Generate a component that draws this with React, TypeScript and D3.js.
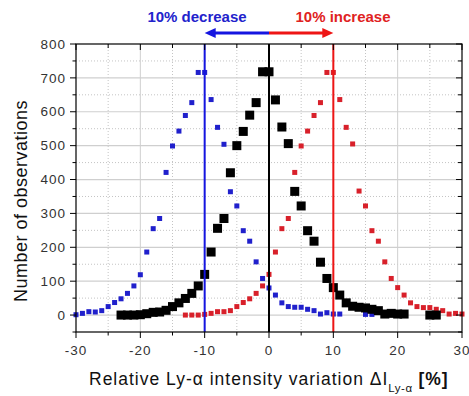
import React from "react";
import * as d3 from "d3";

// ---- data ----
const blackX = [-23, -22, -21, -20, -19, -18, -17, -16, -15, -14, -13, -12, -11, -10, -9, -8, -7, -6, -5, -4, -3, -2, -1, 0, 1, 2, 3, 4, 5, 6, 7, 8, 9, 10, 11, 12, 13, 14, 15, 16, 17, 18, 19, 20, 21, 25, 26];
const blackY = [0, 0, 0, 1, 4, 8, 9, 14, 25, 36, 49, 64, 86, 120, 186, 256, 285, 420, 500, 542, 590, 627, 718, 718, 635, 555, 506, 365, 322, 249, 218, 156, 108, 81, 59, 36, 26, 23, 21, 17, 13, 3, 5, 3, 3, 0, 0];

const blueX = [-30, -29, -28, -27, -26, -25, -24, -23, -22, -21, -20, -19, -18, -17, -16, -15, -14, -13, -12, -11, -10, -9, -8, -7, -6, -5, -4, -3, -2, -1, 0, 1, 2, 3, 4, 5, 6, 7, 8, 9, 10, 11, 15, 16];
const blueY = [1, 5, 10, 9, 13, 25, 37, 48, 64, 86, 119, 186, 255, 285, 421, 499, 543, 589, 627, 716, 716, 636, 554, 504, 364, 322, 249, 218, 157, 108, 80, 59, 36, 25, 23, 23, 17, 13, 3, 7, 3, 3, 2, 2];

const redX = [-13, -12, -11, -10, -9, -8, -7, -6, -5, -4, -3, -2, -1, 0, 1, 2, 3, 4, 5, 6, 7, 8, 9, 10, 11, 12, 13, 14, 15, 16, 17, 18, 19, 20, 21, 22, 23, 24, 25, 26, 27, 28, 29, 30];
const redY = [0, 0, 0, 2, 5, 10, 10, 13, 25, 37, 48, 64, 86, 120, 186, 255, 285, 421, 499, 543, 589, 627, 716, 716, 636, 554, 505, 366, 322, 249, 218, 157, 108, 81, 59, 36, 25, 22, 22, 17, 13, 3, 5, 3];

const xTicks = [-30, -20, -10, 0, 10, 20, 30];
const xMinor = [-25, -15, -5, 5, 15, 25];
const yTicks = [0, 100, 200, 300, 400, 500, 600, 700, 800];
const yMinor = [-50, 50, 150, 250, 350, 450, 550, 650, 750];
const refLines = [
  { v: -10, color: "#1515e0" },
  { v: 0, color: "#000000" },
  { v: 10, color: "#ee1515" },
];

const W = 469;
const H = 396;
const L = 76, R = 462, T = 44, B = 332;
const FONT = "Arial, 'Liberation Sans', Helvetica, sans-serif";

export default function App() {
  const x = d3.scaleLinear().domain([-30, 30]).range([L, R]);
  const y = d3.scaleLinear().domain([-50, 800]).range([B, T]);

  const blue = blueX.map((v, i) => [v, blueY[i]]);
  const red = redX.map((v, i) => [v, redY[i]]);
  const black = blackX.map((v, i) => [v, blackY[i]]);

  const sB = 9;
  const sC = 5;
  const arrowY = 33;

  return (
    <svg
      width={W}
      height={H}
      style={{ position: "absolute", left: 0, top: 0, background: "#fff" }}
      fontFamily={FONT}
    >
      <rect x={0} y={0} width={W} height={H} fill="#fff" />
      {/* grid */}
      {xMinor.map((t) => (
        <line key={"xm" + t} x1={x(t)} x2={x(t)} y1={T} y2={B} stroke="#c4c4c4" strokeWidth={1} strokeDasharray="1,2" />
      ))}
      {yMinor.filter((t) => t > -50).map((t) => (
        <line key={"ym" + t} x1={L} x2={R} y1={y(t)} y2={y(t)} stroke="#c4c4c4" strokeWidth={1} strokeDasharray="1,2" />
      ))}
      {xTicks.filter((t) => t > -30 && t < 30).map((t) => (
        <line key={"xg" + t} x1={x(t)} x2={x(t)} y1={T} y2={B} stroke="#cfcfcf" strokeWidth={1} />
      ))}
      {yTicks.filter((t) => t < 800).map((t) => (
        <line key={"yg" + t} x1={L} x2={R} y1={y(t)} y2={y(t)} stroke="#cfcfcf" strokeWidth={1.2} />
      ))}

      {/* series */}
      {blue.map(([a, b], i) => (
        <rect key={"b" + i} x={x(a) - sC / 2} y={y(b) - sC / 2} width={sC} height={sC} fill="#2020cc" />
      ))}
      {red.map(([a, b], i) => (
        <rect key={"r" + i} x={x(a) - sC / 2} y={y(b) - sC / 2} width={sC} height={sC} fill="#d8202a" />
      ))}
      {black.map(([a, b], i) => (
        <rect key={"k" + i} x={x(a) - sB / 2} y={y(b) - sB / 2} width={sB} height={sB} fill="#000" />
      ))}

      {/* reference lines */}
      {refLines.map((r) => (
        <line key={"rl" + r.v} x1={x(r.v)} x2={x(r.v)} y1={T} y2={B} stroke={r.color} strokeWidth={2} />
      ))}

      {/* frame */}
      <rect x={L} y={T} width={R - L} height={B - T} fill="none" stroke="#000" strokeWidth={1.2} />

      {/* ticks */}
      {xTicks.map((t) => (
        <g key={"xt" + t}>
          <line x1={x(t)} x2={x(t)} y1={B} y2={B + 6} stroke="#000" strokeWidth={1} />
          <line x1={x(t)} x2={x(t)} y1={T} y2={T + 6} stroke="#000" strokeWidth={1} />
          <text x={x(t)} y={355} textAnchor="middle" fontSize={13.5} letterSpacing={1} fill="#333">
            {t}
          </text>
        </g>
      ))}
      {xMinor.map((t) => (
        <g key={"xmt" + t}>
          <line x1={x(t)} x2={x(t)} y1={B} y2={B + 3.5} stroke="#000" strokeWidth={1} />
          <line x1={x(t)} x2={x(t)} y1={T} y2={T + 4} stroke="#000" strokeWidth={1} />
        </g>
      ))}
      {yTicks.map((t) => (
        <g key={"yt" + t}>
          <line x1={L - 6} x2={L} y1={y(t)} y2={y(t)} stroke="#000" strokeWidth={1} />
          <line x1={R - 6} x2={R} y1={y(t)} y2={y(t)} stroke="#000" strokeWidth={1} />
          <text x={66} y={y(t) + 4.7} textAnchor="end" fontSize={13.5} letterSpacing={1} fill="#333">
            {t}
          </text>
        </g>
      ))}
      {yMinor.map((t) => (
        <g key={"ymt" + t}>
          <line x1={L - 3.5} x2={L} y1={y(t)} y2={y(t)} stroke="#000" strokeWidth={1} />
          <line x1={R - 4} x2={R} y1={y(t)} y2={y(t)} stroke="#000" strokeWidth={1} />
        </g>
      ))}

      {/* axis titles */}
      <text x={89} y={385} fontSize={17.5} letterSpacing={1} fill="#111">
        Relative Ly-α intensity variation ΔI
        <tspan fontSize={11.5} dy={7} letterSpacing={0.5}>Ly-α</tspan>
        <tspan dy={-7} fontWeight="bold"> [%]</tspan>
      </text>
      <text
        transform={`translate(27,${(T + B) / 2 + 13}) rotate(-90)`}
        textAnchor="middle"
        fontSize={18}
        letterSpacing={0.5}
        fill="#111"
      >
        Number of observations
      </text>

      {/* annotations */}
      <text x={197} y={22} textAnchor="middle" fontSize={15} fontWeight="bold" fill="#2222cc">
        10% decrease
      </text>
      <text x={343} y={22} textAnchor="middle" fontSize={15} fontWeight="bold" fill="#e02222">
        10% increase
      </text>
      <line x1={x(0)} x2={x(-10) + 9} y1={arrowY} y2={arrowY} stroke="#1515e0" strokeWidth={3} />
      <polygon
        points={`${x(-10)},${arrowY} ${x(-10) + 11},${arrowY - 5} ${x(-10) + 11},${arrowY + 5}`}
        fill="#1515e0"
      />
      <line x1={x(0)} x2={x(10) - 9} y1={arrowY} y2={arrowY} stroke="#ee1515" strokeWidth={3} />
      <polygon
        points={`${x(10)},${arrowY} ${x(10) - 11},${arrowY - 5} ${x(10) - 11},${arrowY + 5}`}
        fill="#ee1515"
      />
    </svg>
  );
}
